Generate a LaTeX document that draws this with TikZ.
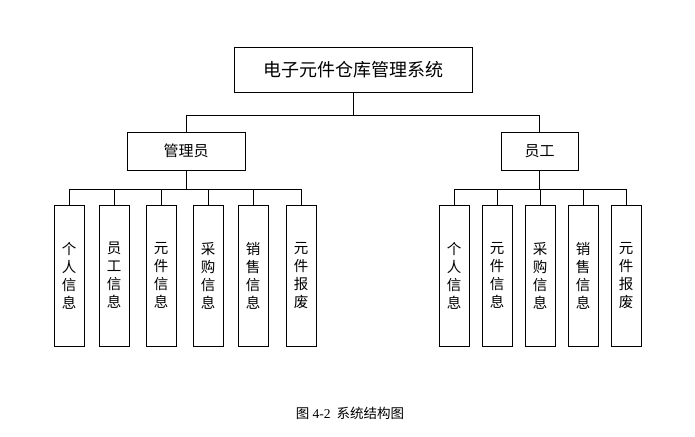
\documentclass[tikz,border=0pt]{standalone}
\usepackage{fontspec}
\setmainfont{Noto Sans CJK SC}
\newfontfamily\latinfont{Liberation Serif}
\tikzset{
  boite/.style={draw,line width=0.8pt,inner sep=0pt},
  feuille/.style={boite,minimum width=30pt,minimum height=141pt,
    align=center,font=\fontsize{14.5}{18}\selectfont},
  lien/.style={line width=0.8pt}
}
\begin{document}
\begin{tikzpicture}[x=1pt,y=-1pt]
\useasboundingbox (0,0) rectangle (695,436);

% Racine
\node[boite,minimum width=238pt,minimum height=45pt,
  font=\fontsize{18}{22}\selectfont] (sys) at (353,69.5) {电子元件仓库管理系统};

% Roles
\node[boite,minimum width=118pt,minimum height=38pt,
  font=\fontsize{15}{18}\selectfont] (gly) at (186,151) {管理员};
\node[boite,minimum width=77pt,minimum height=38pt,
  font=\fontsize{15}{18}\selectfont] (yg) at (539.5,151) {员工};

\draw[lien] (sys.south) -- ++(0,23) -| (gly.north);
\draw[lien] (sys.south) -- ++(0,23) -| (yg.north);

% Modules gauche
\foreach \x/\za/\zb/\zc/\zd [count=\i] in {
69/个/人/信/息,
114/员/工/信/息,
161/元/件/信/息,
208/采/购/信/息,
253/销/售/信/息,
301/元/件/报/废
}
{
    \node[feuille] (a\i) at (\x,275.5) {\za\\\zb\\\zc\\\zd};
    \draw[lien] (gly.south) -- ++(0,19) -| (a\i.north);
}

% Modules droite
\foreach \x/\za/\zb/\zc/\zd [count=\i] in {
454/个/人/信/息,
497/元/件/信/息,
540/采/购/信/息,
583/销/售/信/息,
626/元/件/报/废
}
{
    \node[feuille] (b\i) at (\x,275.5) {\za\\\zb\\\zc\\\zd};
    \draw[lien] (yg.south) -- ++(0,19) -| (b\i.north);
}

\node[font=\fontsize{13.5}{16}\selectfont] (titre) at (350,413)
{图 {\latinfont 4-2}\hspace{6pt}系统结构图};

\end{tikzpicture}
\end{document}
